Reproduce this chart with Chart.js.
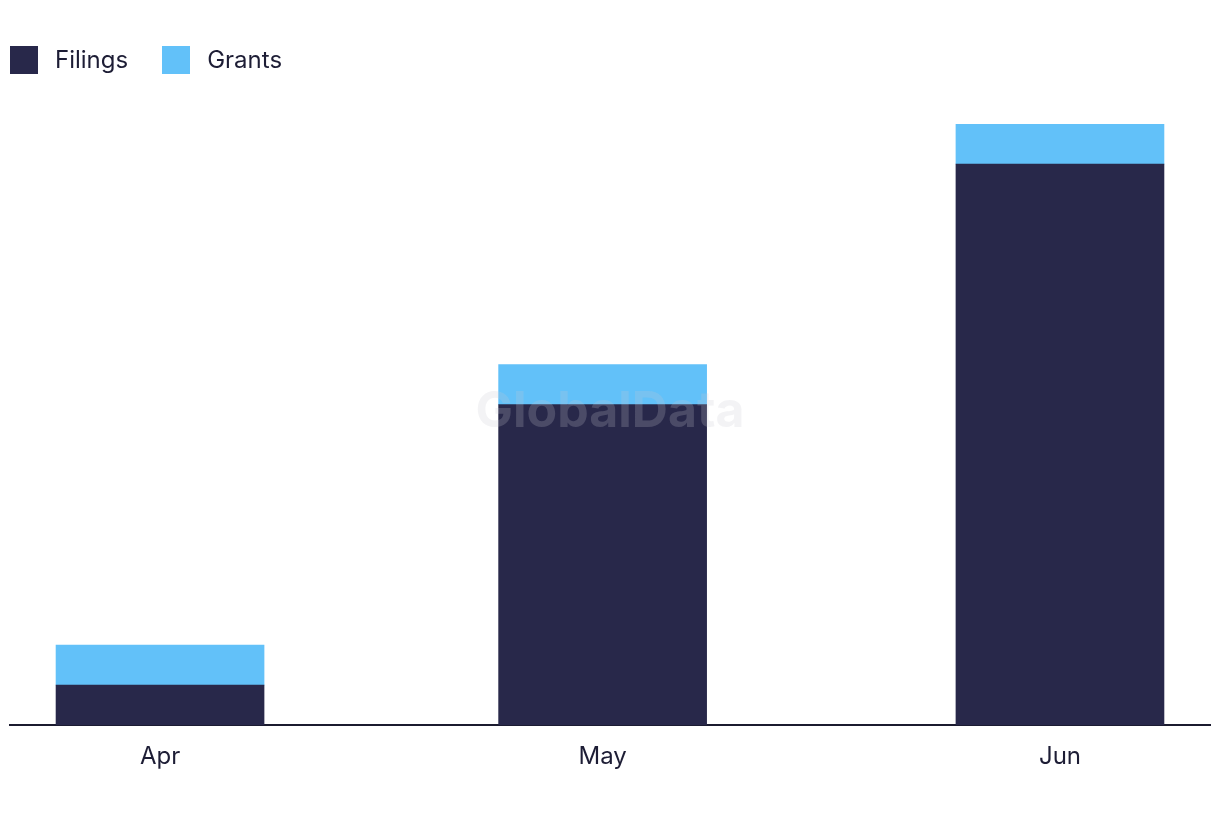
<!DOCTYPE html>
<html>
<head>
<meta charset="utf-8">
<script src="https://cdn.jsdelivr.net/npm/chart.js@4/dist/chart.umd.min.js"></script>
<style>
  html, body { margin: 0; padding: 0; background: #fff; }
  #wrap { width: 1220px; height: 822px; position: relative; }
  #legend {
    position: absolute; left: 10px; top: 45px;
    display: flex; align-items: center;
    font-family: Inter, "Liberation Sans", sans-serif; font-size: 24px; color: #1d1d35;
  }
  .item { display: flex; align-items: center; margin-right: 34px; }
  .box { width: 28px; height: 28px; margin-right: 17px; }
</style>
</head>
<body>
<div id="wrap">
  <div id="legend"></div>
  <canvas id="chart"></canvas>
</div>
<script>
// months shown on the axis (the axis is a time axis, so spacing follows days)
const months = ["Apr", "May", "Jun"];
const monthStarts = ["2024-04-01", "2024-05-01", "2024-06-01"];
const filings = [1, 8, 14];
const grants = [1, 1, 1];

const seriesNames = ["Filings", "Grants"];
const seriesColors = ["#28284a", "#62c1f9"];

const DAY = 24 * 3600 * 1000;
const t0 = new Date(monthStarts[0]).getTime();
// days since first month
const dayIdx = monthStarts.map(d => Math.round((new Date(d).getTime() - t0) / DAY));

const pad = 10.17; // days of padding either side of the axis

// legend as plain html
const legendEl = document.getElementById("legend");
seriesNames.forEach((name, i) => {
    const item = document.createElement("div");
    item.className = "item";
    const box = document.createElement("div");
    box.className = "box";
    box.style.background = seriesColors[i];
    const txt = document.createElement("span");
    txt.textContent = name;
    item.appendChild(box);
    item.appendChild(txt);
    legendEl.appendChild(item);
});

// faint watermark drawn over the bars
const watermark = {
    id: "watermark",
    afterDatasetsDraw(chart) {
        const { ctx, chartArea } = chart;
        ctx.save();
        ctx.font = "bold 50px Inter, 'Liberation Sans', sans-serif";
        ctx.fillStyle = "rgba(200, 200, 208, 0.22)";
        ctx.textAlign = "center";
        ctx.textBaseline = "middle";
        ctx.fillText("GlobalData", (chartArea.left + chartArea.right) / 2, 412);
        ctx.restore();
    },
};

new Chart(document.getElementById("chart"), {
    type: "bar",
    data: {
        datasets: [
            {
                label: seriesNames[0],
                data: dayIdx.map((x, i) => ({ x: x, y: filings[i] })),
                backgroundColor: seriesColors[0],
                barThickness: 208,
            },
            {
                label: seriesNames[1],
                data: dayIdx.map((x, i) => ({ x: x, y: grants[i] })),
                backgroundColor: seriesColors[1],
                barThickness: 208,
            },
        ],
    },
    options: {
        responsive: true,
        maintainAspectRatio: false,
        animation: false,
        layout: { padding: { left: 10, right: 10, top: 124, bottom: 42 } },
        plugins: {
            legend: { display: false },
            tooltip: { enabled: false },
        },
        scales: {
            x: {
                type: "linear",
                stacked: true,
                offset: false,
                bounds: "ticks",
                min: dayIdx[0] - pad,
                max: dayIdx[dayIdx.length - 1] + pad,
                grid: { display: false },
                border: { display: true, color: "#1b1b2f", width: 2 },
                afterBuildTicks: (scale) => {
                    scale.ticks = dayIdx.map(v => ({ value: v }));
                },
                ticks: {
                    autoSkip: false,
                    maxRotation: 0,
                    padding: 9,
                    color: "#1d1d35",
                    font: { family: "Inter, 'Liberation Sans', sans-serif", size: 24 },
                    callback: (v) => {
                        const i = dayIdx.indexOf(v);
                        return i >= 0 ? months[i] : "";
                    },
                },
            },
            y: {
                stacked: true,
                display: false,
                min: 0,
                max: 15,
            },
        },
    },
    plugins: [watermark],
});
</script>
</body>
</html>
